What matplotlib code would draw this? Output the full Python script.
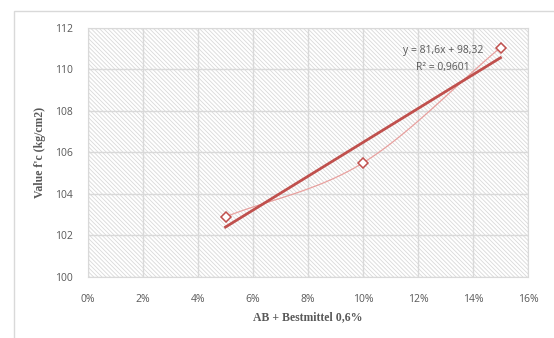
import matplotlib
matplotlib.use('Agg')
import matplotlib.pyplot as plt
import numpy as np
from matplotlib.patches import Rectangle
from matplotlib.ticker import PercentFormatter

# data
dosage = [0.05, 0.10, 0.15]
strength = [102.9, 105.5, 111.06]
x_ticks = [0, 0.02, 0.04, 0.06, 0.08, 0.10, 0.12, 0.14, 0.16]
y_ticks = [100, 102, 104, 106, 108, 110, 112]
eq_text = 'y = 81,6x + 98,32'
r2_text = 'R² = 0,9601'

red = '#c0504d'
light_red = '#e8a09e'
grey_txt = '#595959'
grid_col = '#d9d9d9'

plt.rcParams['hatch.linewidth'] = 0.6
plt.rcParams['hatch.color'] = '#d9d9d9'

fig = plt.figure(figsize=(5.54, 3.38), dpi=100)
# outer chart frame
fig.patches.append(Rectangle((14/554, -0.1), 1.2, 1 - 11/338 + 0.1, transform=fig.transFigure,
                             fill=False, edgecolor='#d9d9d9', lw=1))
ax = fig.add_axes([88/554, 1 - 277/338, 440/554, 249/338])

ax.add_patch(Rectangle((0, 0), 1, 1, transform=ax.transAxes, facecolor='white',
                       hatch='\\' * 8, edgecolor='#d9d9d9', lw=0, zorder=0))

# smooth connecting line (catmull-rom through the points)
x = np.array(dosage)
y = np.array(strength)
px = np.concatenate([[2 * x[0] - x[1]], x, [2 * x[-1] - x[-2]]])
py = np.concatenate([[2 * y[0] - y[1]], y, [2 * y[-1] - y[-2]]])
sx, sy = [], []
t = np.linspace(0, 1, 30)
for i in range(1, len(px) - 2):
    for arr, out in ((px, sx), (py, sy)):
        p0, p1, p2, p3 = arr[i - 1], arr[i], arr[i + 1], arr[i + 2]
        out.extend(0.5 * (2 * p1 + (-p0 + p2) * t + (2 * p0 - 5 * p1 + 4 * p2 - p3) * t**2
                          + (-p0 + 3 * p1 - 3 * p2 + p3) * t**3))
ax.plot(sx, sy, color=light_red, lw=0.9, zorder=3)

# linear trendline
k, b = np.polyfit(x, y, 1)
tx = np.array([x[0], x[-1]])
ax.plot(tx, k * tx + b, color=red, lw=2, zorder=4)

ax.plot(x, y, linestyle='none', marker='D', ms=5.5, mfc='white', mec=red, mew=1.1, zorder=5)

ax.text(0.129, 110.9, eq_text, fontsize=7.5, color=grey_txt, ha='center', va='center',
        family='Open Sans', zorder=6)
ax.text(0.129, 110.1, r2_text, fontsize=7.5, color=grey_txt, ha='center', va='center',
        family='Open Sans', zorder=6)

ax.set_xlim(0, 0.16)
ax.set_ylim(100, 112)
ax.set_xticks(x_ticks)
ax.set_yticks(y_ticks)
ax.xaxis.set_major_formatter(PercentFormatter(1.0, decimals=0))
ax.grid(True, color=grid_col, lw=1, zorder=1)
ax.set_axisbelow(False)
for s in ax.spines.values():
    s.set_color(grid_col)
ax.tick_params(length=0, labelsize=7.5, labelcolor=grey_txt, pad=12)
ax.tick_params(axis='y', pad=11)
for lab in ax.get_xticklabels() + ax.get_yticklabels():
    lab.set_family('Open Sans')

ax.set_xlabel('AB + Bestmittel 0,6%', family='Liberation Serif', fontweight='bold',
              fontsize=8.5, color=grey_txt, labelpad=5)
ax.set_ylabel("Value f'c (kg/cm2)", family='Liberation Serif', fontweight='bold',
              fontsize=8.5, color=grey_txt, labelpad=6)

fig.savefig('out.png', dpi=100)
